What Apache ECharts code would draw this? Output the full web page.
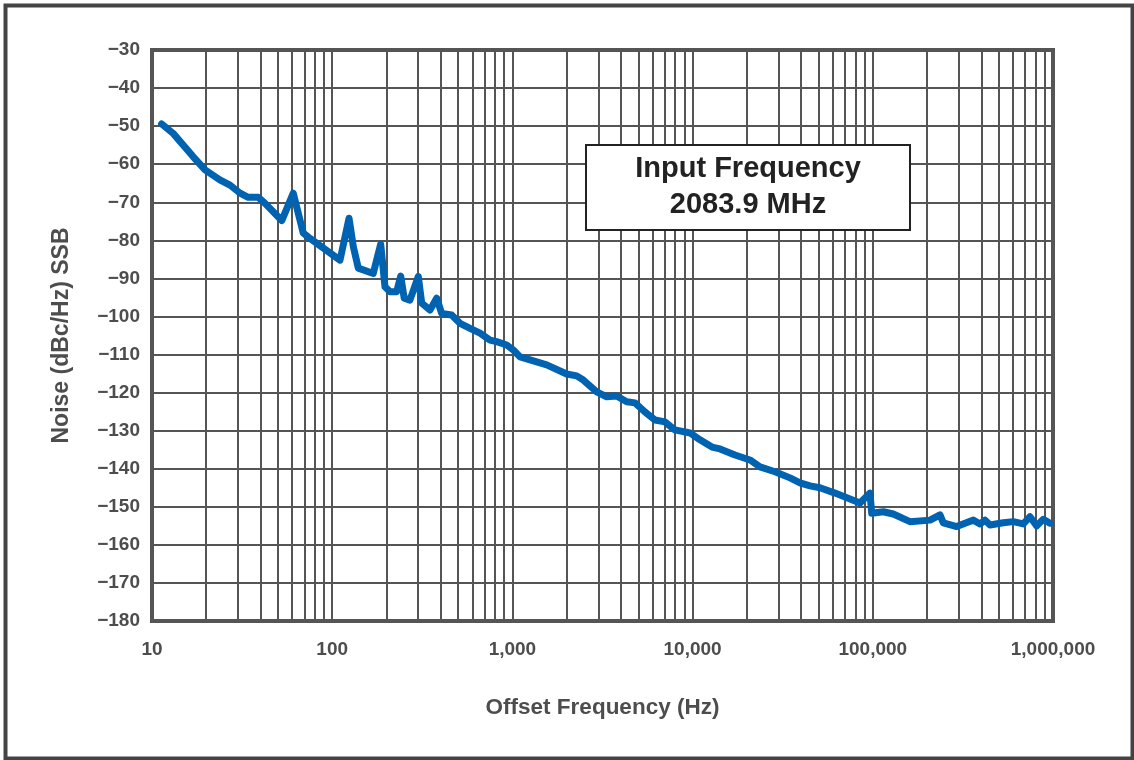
<!DOCTYPE html>
<html>
<head>
<meta charset="utf-8">
<script src="https://cdn.jsdelivr.net/npm/echarts@6/dist/echarts.min.js"></script>
<style>html,body{margin:0;padding:0;background:#fff;}#c{width:1134px;height:760px;}</style>
</head>
<body>
<div id="c"></div>
<script>
var freqHz = [11.3,13.1,16.9,19.7,23.8,27.1,30.8,34.2,38.9,42.4,52.5,60.8,63.5,69.1,75.3,87.4,110.5,124,131,139.6,169,185.8,196.3,209.3,228,240,251,270,300.5,313.9,349,380,405,460,512,582,661,751,818,930,1012,1102,1550,2001,2274,2475,2937,3337,3791,4308,4791,5443,6185,7027,7985,9674,10990,12813,14195,17190,20820,23660,28660,34720,39450,44830,50930,61700,70100,84900,96500,98600,114400,129900,160800,207700,236000,246200,292200,324900,361200,393400,419500,447100,530000,602000,684000,745500,812000,883700,962500];
var noiseDbc = [-49.4,-51.9,-58.0,-61.5,-64.1,-65.5,-67.6,-68.7,-68.7,-70.3,-74.8,-67.6,-71.2,-78.1,-79.5,-81.7,-85.2,-74.2,-81.7,-87.3,-88.7,-81.0,-92.2,-93.5,-93.5,-89.4,-95.2,-95.7,-89.5,-96.5,-98.3,-95.2,-99.2,-99.6,-101.8,-103.1,-104.4,-106.2,-106.6,-107.5,-108.8,-110.6,-112.7,-115.1,-115.6,-116.7,-119.8,-121.1,-120.9,-122.4,-122.7,-125.1,-127.2,-127.7,-129.8,-130.6,-132.4,-134.3,-134.8,-136.4,-137.7,-139.5,-140.8,-142.4,-143.7,-144.5,-145.0,-146.4,-147.4,-149.0,-146.4,-151.7,-151.3,-151.9,-153.9,-153.5,-152.1,-154.2,-155.2,-154.3,-153.5,-154.5,-153.5,-154.8,-154.2,-153.9,-154.5,-152.6,-155.0,-153.3,-154.3];
var xTickLabels = ['10','100','1,000','10,000','100,000','1,000,000'];
var yMin = -180, yMax = -30, yStep = 10;
var legendLines = ['Input Frequency', '2083.9 MHz'];

var minorX = [];
for (var d = 1; d < 6; d++) {
  for (var m = 2; m <= 9; m++) minorX.push({xAxis: m * Math.pow(10, d)});
}
var pts = freqHz.map(function (f, i) { return [f, noiseDbc[i]]; });

var gridCol = '#555555';
var txtCol = '#4d4d4d';
var fam = 'Liberation Sans, Arial, sans-serif';
var chart = echarts.init(document.getElementById('c'));
chart.setOption({
  backgroundColor: '#ffffff',
  animation: false,
  grid: {left: 152, top: 50, right: 81, bottom: 139, show: true, borderColor: gridCol, borderWidth: 4, backgroundColor: '#fff'},
  xAxis: {
    type: 'log', logBase: 10, min: 10, max: 1000000,
    axisLine: {show: true, lineStyle: {color: gridCol, width: 4}},
    axisTick: {show: false},
    splitLine: {show: true, lineStyle: {color: gridCol, width: 2}},
    axisLabel: {
      margin: 19, color: txtCol, fontFamily: fam, fontWeight: 'bold', fontSize: 19,
      formatter: function (v) { var k = Math.round(Math.log10(v)) - 1; return xTickLabels[k] || ''; }
    },
    name: 'Offset Frequency (Hz)', nameLocation: 'middle', nameGap: 75,
    nameTextStyle: {color: txtCol, fontFamily: fam, fontWeight: 'bold', fontSize: 22.5}
  },
  yAxis: {
    type: 'value', min: yMin, max: yMax, interval: yStep,
    axisLine: {show: true, lineStyle: {color: gridCol, width: 4}},
    axisTick: {show: false},
    splitLine: {show: true, lineStyle: {color: gridCol, width: 2}},
    axisLabel: {
      margin: 12, color: txtCol, fontFamily: fam, fontWeight: 'bold', fontSize: 19,
      formatter: function (v) { return String(v).replace('-', '\u2212'); }
    },
    name: 'Noise (dBc/Hz) SSB', nameLocation: 'middle', nameGap: 79,
    nameTextStyle: {color: txtCol, fontFamily: fam, fontWeight: 'bold', fontSize: 23}
  },
  series: [{
    type: 'line', data: pts, showSymbol: false, symbol: 'none', z: 5,
    lineStyle: {color: '#0063b1', width: 7, cap: 'round', join: 'round'},
    markLine: {
      silent: true, symbol: 'none', label: {show: false}, animation: false,
      lineStyle: {color: gridCol, width: 2, type: 'solid'},
      data: minorX, z: 1
    }
  }],
  graphic: [
    {type: 'rect', left: 3, top: 3, z: 100, shape: {width: 1127, height: 753}, style: {fill: 'none', stroke: '#444', lineWidth: 4}, silent: true},
    {type: 'rect', z: 100, shape: {x: 586, y: 145, width: 324, height: 85}, style: {fill: '#ffffff', stroke: '#222', lineWidth: 2}},
    {type: 'text', z: 101, x: 748, y: 169, style: {text: legendLines[0], fill: '#222', fontFamily: fam, fontWeight: 'bold', fontSize: 29, textAlign: 'center', textVerticalAlign: 'middle'}},
    {type: 'text', z: 101, x: 748, y: 205, style: {text: legendLines[1], fill: '#222', fontFamily: fam, fontWeight: 'bold', fontSize: 29, textAlign: 'center', textVerticalAlign: 'middle'}}
  ]
});
</script>
</body>
</html>
